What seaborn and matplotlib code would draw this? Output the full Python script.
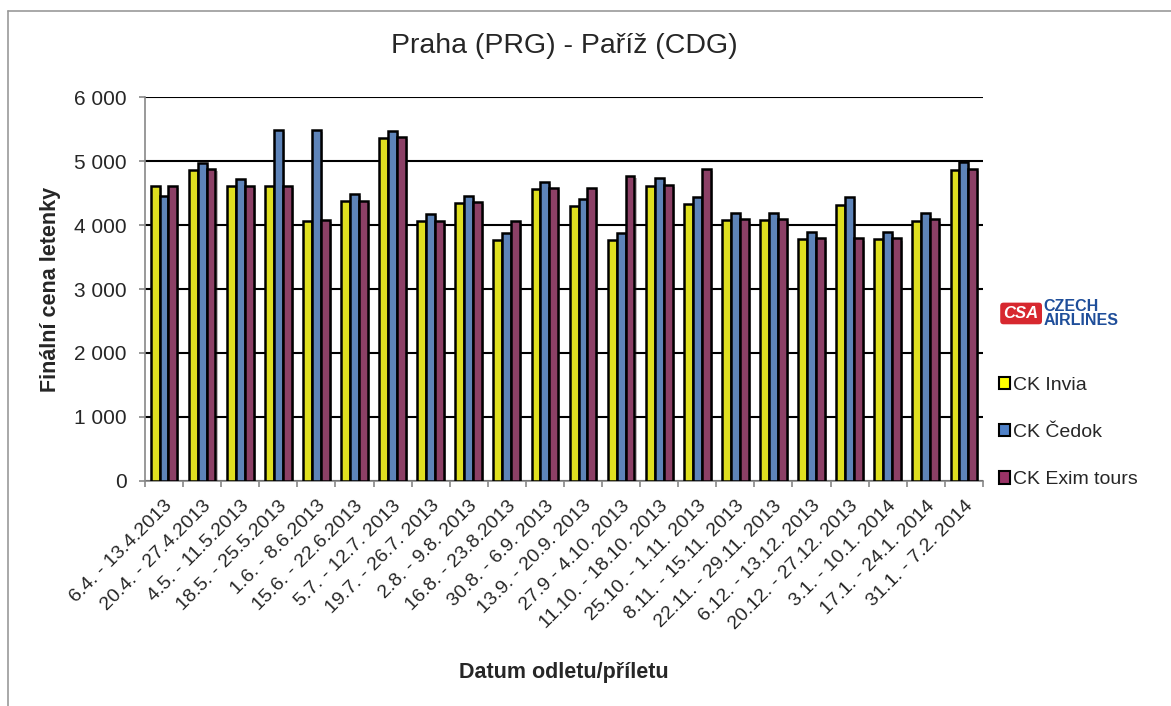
import numpy as np
import pandas as pd
import matplotlib.pyplot as plt
import matplotlib.patheffects as pe
from matplotlib.patches import Rectangle
from matplotlib.lines import Line2D
from matplotlib.ticker import FuncFormatter
import seaborn as sns

sns.set_style("white")
plt.rcParams['font.family'] = ['Liberation Sans', 'DejaVu Sans']

# data
terms = ["6.4. - 13.4.2013", "20.4. - 27.4.2013", "4.5. - 11.5.2013", "18.5. - 25.5.2013",
         "1.6. - 8.6.2013", "15.6. - 22.6.2013", "5.7. - 12.7. 2013", "19.7. - 26.7. 2013",
         "2.8. - 9.8. 2013", "16.8. - 23.8.2013", "30.8. - 6.9. 2013", "13.9. - 20.9. 2013",
         "27.9 - 4.10. 2013", "11.10. - 18.10. 2013", "25.10. - 1.11. 2013", "8.11. - 15.11. 2013",
         "22.11. - 29.11. 2013", "6.12. - 13.12. 2013", "20.12. - 27.12. 2013", "3.1. - 10.1. 2014",
         "17.1. - 24.1. 2014", "31.1. - 7.2. 2014"]
invia = [4610, 4870, 4610, 4610, 4063, 4375, 5365, 4063, 4350, 3766, 4568,
         4308, 3766, 4620, 4334, 4078, 4078, 3776, 4323, 3776, 4073, 4870]
cedok = [4464, 4975, 4725, 5485, 5485, 4490, 5470, 4170, 4464, 3870, 4672,
         4412, 3870, 4735, 4443, 4183, 4183, 3891, 4438, 3891, 4183, 4985]
exim = [4620, 4885, 4620, 4620, 4078, 4385, 5375, 4073, 4360, 4073, 4578,
        4578, 4766, 4636, 4885, 4089, 4089, 3792, 3792, 3792, 4089, 4875]
agencies = ["CK Invia", "CK Čedok", "CK Exim tours"]
colors = ["#FFFF00", "#4F81C8", "#993366"]

df = pd.DataFrame({
    "termin": terms * 3,
    "cena": invia + cedok + exim,
    "ck": [agencies[0]] * len(terms) + [agencies[1]] * len(terms) + [agencies[2]] * len(terms),
})

fig = plt.figure(figsize=(11.71, 7.06), dpi=100)
ax = fig.add_axes([0.1238, 0.3194, 0.7156, 0.5425])

sns.barplot(data=df, x="termin", y="cena", hue="ck", palette=colors, width=0.7,
            edgecolor="black", linewidth=1.8, legend=False, ax=ax, zorder=3)
for p in ax.patches:
    p.set_path_effects([pe.SimplePatchShadow(offset=(1.5, -1.5), alpha=0.3), pe.Normal()])

ax.set_ylim(0, 6000)
ax.set_xlim(-0.5, len(terms) - 0.5)
ax.set_yticks(range(0, 6001, 1000))
ax.yaxis.set_major_formatter(FuncFormatter(lambda v, _: f"{int(v):,}".replace(",", " ")))
ax.grid(axis="y", color="black", linewidth=1.5, zorder=0)
ax.set_axisbelow(True)

for s in ["top", "right"]:
    ax.spines[s].set_visible(False)
for s in ["left", "bottom"]:
    ax.spines[s].set_color("#888888")
    ax.spines[s].set_linewidth(1.2)

# ticks: x ticks between groups, labels at group centers
ax.set_xticks(np.arange(len(terms)))
ax.set_xticklabels(terms, rotation=45, ha="right", rotation_mode="anchor", fontsize=14)
ax.set_xticks(np.arange(-0.5, len(terms)), minor=True)
ax.tick_params(axis="x", which="major", length=0, pad=12)
ax.tick_params(axis="x", which="minor", length=4, color="#888888", width=1.2, bottom=True)
ax.tick_params(axis="y", length=4, color="#888888", width=1.2, left=True, labelsize=15, pad=9)

ax.set_xlabel("Datum odletu/příletu", fontsize=15.5, fontweight="bold", va="center")
ax.xaxis.set_label_coords(0.5, -0.50)
ax.set_ylabel("Finální cena letenky", fontsize=15.5, fontweight="bold", va="center")
ax.yaxis.set_label_coords(-0.113, 0.5)
ax.set_title("Praha (PRG) - Paříž (CDG)", fontsize=20.5, pad=32)

# logo-like text above legend
fig.text(0.857, 0.556, "CSA", color="white", fontsize=12, fontweight="bold", style="italic",
         va="center", bbox=dict(boxstyle="round,pad=0.2", fc="#D7282F", ec="none"))
fig.text(0.891, 0.556, "CZECH\nAIRLINES", color="#1F4E9A", fontsize=11.5, fontweight="bold",
         va="center", linespacing=0.85)

handles = [Rectangle((0, 0), 1, 1, fc=c, ec="black", lw=1.5) for c in colors]
fig.legend(handles, agencies, loc="upper left", bbox_to_anchor=(0.838, 0.491),
           frameon=False, fontsize=14, handlelength=0.6, handleheight=0.6,
           handletextpad=0.15, labelspacing=1.55)

# outer frame: top and left edges only
fig.add_artist(Line2D([0.007, 1.0], [0.985, 0.985], transform=fig.transFigure, color="#999999", lw=1.2))
fig.add_artist(Line2D([0.007, 0.007], [0.0, 0.985], transform=fig.transFigure, color="#999999", lw=1.2))

fig.savefig("out.png", dpi=100)
